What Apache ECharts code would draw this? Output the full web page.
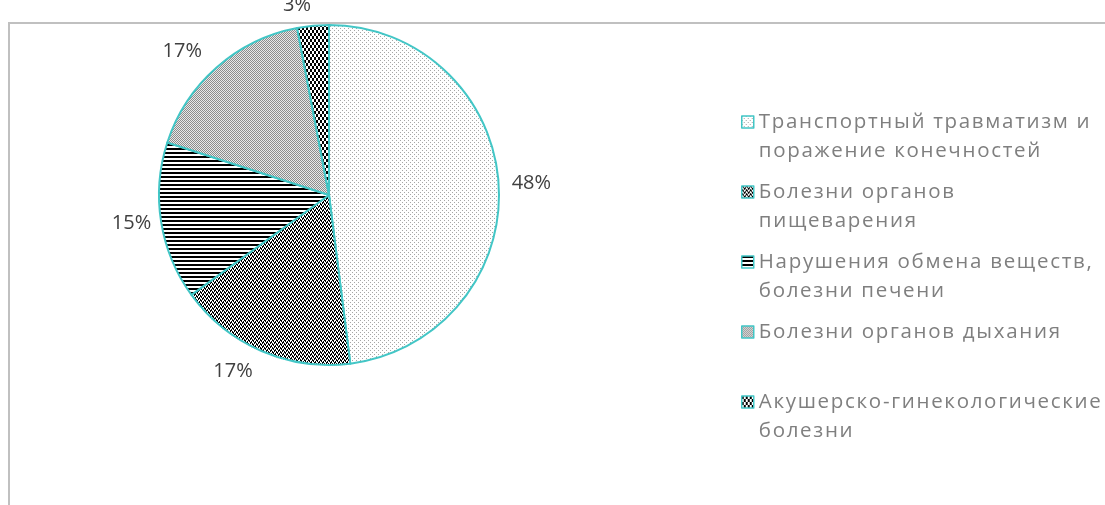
<!DOCTYPE html>
<html>
<head>
<meta charset="utf-8">
<script src="https://cdn.jsdelivr.net/npm/echarts@6/dist/echarts.min.js"></script>
<style>
  html, body { margin: 0; padding: 0; background: #ffffff; }
  #chart { width: 1105px; height: 505px; }
</style>
</head>
<body>
<div id="chart"></div>
<script>
// Structure of cases by disease group, per cent
const categories = [
  'Транспортный травматизм и поражение конечностей',
  'Болезни органов пищеварения',
  'Нарушения обмена веществ, болезни печени',
  'Болезни органов дыхания',
  'Акушерско-гинекологические болезни'
];
const legendLines = [
  ['Транспортный травматизм и', 'поражение конечностей'],
  ['Болезни органов', 'пищеварения'],
  ['Нарушения обмена веществ,', 'болезни печени'],
  ['Болезни органов дыхания'],
  ['Акушерско-гинекологические', 'болезни']
];
const shares = [48, 17, 15, 17, 3];

// Monochrome hatch tiles used as slice fills
function hatch(rows, on, off) {
  const h = rows.length, w = rows[0].length;
  const c = document.createElement('canvas');
  c.width = w; c.height = h;
  const ctx = c.getContext('2d');
  for (let y = 0; y < h; y++) {
    for (let x = 0; x < w; x++) {
      ctx.fillStyle = rows[y][x] === '#' ? on : off;
      ctx.fillRect(x, y, 1, 1);
    }
  }
  return { image: c, repeat: 'repeat' };
}

const fills = [
  hatch(['#...', '....', '..#.', '....'], '#a6a6a6', '#ffffff'),
  hatch(['##..', '.#.#', '..##', '#.#.'], '#000000', '#ffffff'),
  hatch(['####', '####', '....', '....'], '#000000', '#ffffff'),
  hatch(['#.', '.#'], '#8c8c8c', '#e8e8e8'),
  hatch(['##..', '##..', '##..', '..##', '..##', '..##'], '#000000', '#ffffff')
];

// distance of each percentage label from the rim
const labelGap = [13, 22, 10, 22, 21];

const TEAL = '#42c6c6';
const FONT = 'Open Sans';
const LINE_H = 29;
const legendRowY = [122, 192, 262, 332, 402];

const chart = echarts.init(document.getElementById('chart'), null, { renderer: 'canvas' });

const option = {
  animation: false,
  backgroundColor: '#ffffff',
  graphic: [{
    type: 'rect',
    z: -10,
    silent: true,
    shape: { x: 9, y: 23, width: 1200, height: 600 },
    style: { fill: 'none', stroke: '#c0c0c0', lineWidth: 2 }
  }],
  legend: legendLines.map((lines, i) => ({
    data: [categories[i]],
    zlevel: 1,
    left: 741,
    top: legendRowY[i] - (2 * lines.length - 1) * LINE_H / 2,
    padding: 0,
    orient: 'vertical',
    icon: 'rect',
    itemWidth: 12,
    itemHeight: 12,
    itemGap: 0,
    selectedMode: false,
    // blank leading lines keep the first text line level with the swatch
    formatter: () => new Array(lines.length - 1).fill('').concat(lines).join('\n'),
    itemStyle: { borderColor: TEAL, borderWidth: 1.5 },
    textStyle: {
      fontFamily: FONT,
      fontSize: 20.5,
      color: '#7f7f7f',
      lineHeight: LINE_H
    }
  })),
  series: [{
    type: 'pie',
    center: [329, 195],
    radius: 170,
    startAngle: 90,
    clockwise: true,
    avoidLabelOverlap: false,
    silent: true,
    itemStyle: { borderColor: TEAL, borderWidth: 2 },
    label: {
      show: true,
      position: 'outside',
      formatter: '{c}%',
      fontFamily: FONT,
      fontSize: 20,
      color: '#404040',
      distanceToLabelLine: 0
    },
    labelLine: { show: false, length: 10, length2: 0 },
    data: categories.map((name, i) => ({
      name: name,
      value: shares[i],
      itemStyle: { color: fills[i] },
      labelLine: { length: labelGap[i], length2: 0 }
    }))
  }]
};

chart.setOption(option);

// legend lettering is spaced out; widen it on the legend's own canvas layer
const legendLayer = chart.getZr().painter.getLayers()[1];
if (legendLayer && legendLayer.ctx && 'letterSpacing' in legendLayer.ctx) {
  legendLayer.ctx.letterSpacing = '1.7px';
  chart.setOption(option, { notMerge: true });
}
</script>
</body>
</html>
